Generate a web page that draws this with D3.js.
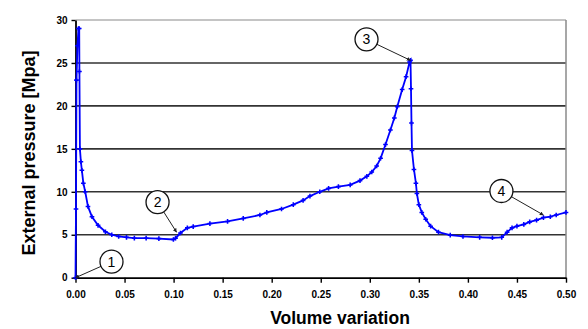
<!DOCTYPE html>
<html>
<head>
<meta charset="utf-8">
<script src="https://cdn.jsdelivr.net/npm/d3@7"></script>
<style>
  html, body { margin: 0; padding: 0; background: #fff; }
  svg { display: block; }
</style>
</head>
<body>
<svg id="chart" width="588" height="329"></svg>
<script>
// Volume variation (x) and external pressure in MPa (y) along the loading path
const volume = [0, 0.0005, 0.001, 0.002, 0.003, 0.0038, 0.004, 0.0045, 0.0055, 0.0065, 0.008, 0.0099,
  0.0127, 0.0168, 0.023, 0.0305, 0.037, 0.044, 0.052, 0.06, 0.072, 0.085, 0.0998, 0.102, 0.107, 0.114, 0.12,
  0.137, 0.155, 0.171, 0.188, 0.195, 0.21, 0.222, 0.232, 0.239, 0.249, 0.258, 0.268, 0.28, 0.29,
  0.297, 0.302, 0.307, 0.311, 0.316, 0.321, 0.325, 0.328, 0.333, 0.337, 0.3405, 0.3415, 0.342,
  0.3425, 0.343, 0.345, 0.347, 0.348, 0.35, 0.353, 0.357, 0.362, 0.37, 0.382, 0.395, 0.412,
  0.425, 0.4345, 0.44, 0.445, 0.45, 0.457, 0.463, 0.47, 0.477, 0.484, 0.49, 0.5];
const pressure = [0, 8, 23, 27, 29, 29, 24, 15, 13.5, 12.5, 11, 10,
  8.3, 7.1, 6.1, 5.35, 5.0, 4.8, 4.7, 4.6, 4.6, 4.55, 4.45, 4.6, 5.2, 5.8, 5.95,
  6.3, 6.55, 6.9, 7.3, 7.6, 8.0, 8.5, 9.0, 9.5, 10.0, 10.4, 10.6, 10.8, 11.3,
  11.8, 12.3, 13.0, 13.9, 15.5, 17.2, 18.6, 19.9, 21.9, 23.4, 25.1, 25.3, 22,
  18, 14.8, 12.6, 11.0, 9.8, 8.5, 7.6, 6.8, 6.0, 5.3, 4.95, 4.8, 4.7,
  4.65, 4.7, 5.3, 5.8, 6.0, 6.2, 6.5, 6.7, 7.0, 7.1, 7.3, 7.6];

const xTicks = [0, 0.05, 0.10, 0.15, 0.20, 0.25, 0.30, 0.35, 0.40, 0.45, 0.50];
const yTicks = [0, 5, 10, 15, 20, 25, 30];

// Numbered stages marked on the curve
const stageLabels = ["1", "2", "3", "4"];
const stageVolume = [0, 0.103, 0.3415, 0.477];
const stagePressure = [0, 5.3, 25.3, 7.3];
const stageOffsetX = [36, -19, -44, -42];
const stageOffsetY = [-16, -30, -21, -24];

const svg = d3.select("#chart");
const x = d3.scaleLinear().domain([0, 0.5]).range([75.5, 566]);
const y = d3.scaleLinear().domain([0, 30]).range([277.7, 20]);

// horizontal grid lines
svg.append("g").selectAll("line")
  .data(yTicks.filter(d => d > 0))
  .join("line")
  .attr("x1", x(0)).attr("x2", x(0.5))
  .attr("y1", d => y(d)).attr("y2", d => y(d))
  .attr("stroke", d => d === 30 ? "#8a8a8a" : "#333")
  .attr("stroke-width", d => d === 30 ? 1.2 : 1.6);

// right frame edge
svg.append("line")
  .attr("x1", x(0.5)).attr("x2", x(0.5))
  .attr("y1", y(30)).attr("y2", y(0))
  .attr("stroke", "#8a8a8a").attr("stroke-width", 1.5);

// axes
const xAxis = d3.axisBottom(x).tickValues(xTicks).tickSize(5).tickSizeOuter(0)
  .tickFormat(d3.format(".2f"));
const yAxis = d3.axisLeft(y).tickValues(yTicks).tickSize(4).tickSizeOuter(0)
  .tickFormat(d3.format("d"));

const gx = svg.append("g").attr("transform", `translate(0,${y(0)})`).call(xAxis);
const gy = svg.append("g").attr("transform", `translate(${x(0)},0)`).call(yAxis);

[gx, gy].forEach(g => {
  g.select(".domain").attr("stroke", "#000").attr("stroke-width", 1.8);
  g.selectAll(".tick line").attr("stroke", "#000").attr("stroke-width", 1.4);
  g.selectAll(".tick text")
    .attr("fill", "#000")
    .style("font-family", "'Liberation Sans', Arial, sans-serif")
    .style("font-weight", "bold")
    .style("font-size", "10px");
});
gx.selectAll(".tick text").attr("dy", "0.71em").attr("y", 13);
gy.selectAll(".tick text").attr("x", -8);

// data curve
const pts = volume.map((v, i) => [v, pressure[i]]);
const line = d3.line().x(d => x(d[0])).y(d => y(d[1]));
svg.append("path")
  .datum(pts)
  .attr("d", line)
  .attr("fill", "none")
  .attr("stroke", "#0000ff")
  .attr("stroke-width", 1.8);

// small cross markers on every sample
svg.append("g").selectAll("path")
  .data(pts)
  .join("path")
  .attr("d", d3.symbol(d3.symbolCross, 12))
  .attr("transform", d => `translate(${x(d[0])},${y(d[1])})`)
  .attr("fill", "#0000ff");

// arrow head for the stage pointers
svg.append("defs").append("marker")
  .attr("id", "arr")
  .attr("viewBox", "0 0 6 6")
  .attr("refX", 5.5).attr("refY", 3)
  .attr("markerWidth", 4).attr("markerHeight", 4)
  .attr("orient", "auto")
  .append("path").attr("d", "M0,0L6,3L0,6Z").attr("fill", "#222");

const stages = stageLabels.map((s, i) => {
  const tx = x(stageVolume[i]), ty = y(stagePressure[i]);
  return { label: s, tx, ty, cx: tx + stageOffsetX[i], cy: ty + stageOffsetY[i] };
});
const r = 11.5;
const gs = svg.append("g").selectAll("g").data(stages).join("g");
gs.append("line")
  .attr("x1", d => {
    const a = Math.atan2(d.ty - d.cy, d.tx - d.cx);
    return d.cx + r * Math.cos(a);
  })
  .attr("y1", d => {
    const a = Math.atan2(d.ty - d.cy, d.tx - d.cx);
    return d.cy + r * Math.sin(a);
  })
  .attr("x2", d => d.tx).attr("y2", d => d.ty)
  .attr("stroke", "#222").attr("stroke-width", 1)
  .attr("marker-end", "url(#arr)");
gs.append("circle")
  .attr("cx", d => d.cx).attr("cy", d => d.cy).attr("r", r)
  .attr("fill", "#fff").attr("stroke", "#111").attr("stroke-width", 1.3);
gs.append("text")
  .attr("x", d => d.cx).attr("y", d => d.cy)
  .attr("text-anchor", "middle").attr("dy", "0.36em")
  .style("font-family", "'Liberation Sans', Arial, sans-serif")
  .style("font-size", "14px")
  .attr("fill", "#000")
  .text(d => d.label);

// axis titles
svg.append("text")
  .attr("x", 340).attr("y", 324)
  .attr("text-anchor", "middle")
  .style("font-family", "'Liberation Sans', Arial, sans-serif")
  .style("font-weight", "bold")
  .style("font-size", "17.5px")
  .text("Volume variation");

svg.append("text")
  .attr("transform", "translate(35,153) rotate(-90)")
  .attr("text-anchor", "middle")
  .style("font-family", "'Liberation Sans', Arial, sans-serif")
  .style("font-weight", "bold")
  .style("font-size", "18px")
  .text("External pressure [Mpa]");
</script>
</body>
</html>
